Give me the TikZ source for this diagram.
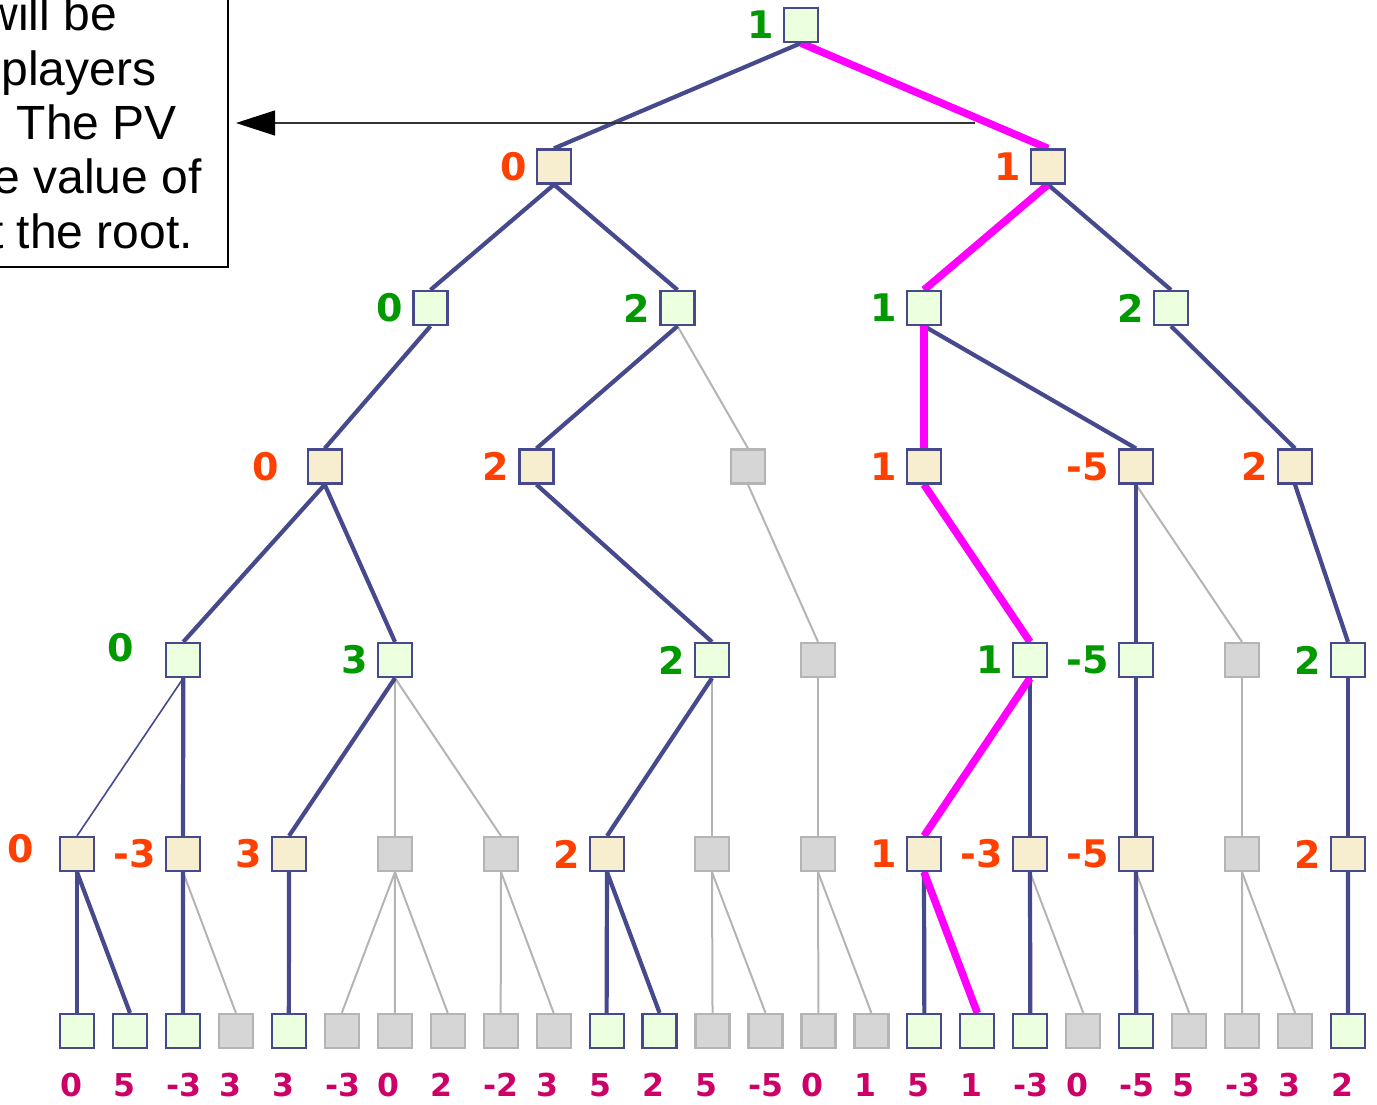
\documentclass[tikz,border=0pt]{standalone}
\usepackage{fontspec}
\setmainfont{Liberation Sans}
\newfontfamily\vfont{DejaVu Sans}
\usetikzlibrary{arrows.meta,positioning,backgrounds}
\definecolor{edgeblue}{RGB}{70,74,140}
\definecolor{boxgreen}{RGB}{236,255,222}
\definecolor{boxbeige}{RGB}{246,238,206}
\definecolor{boxgray}{RGB}{214,214,214}
\definecolor{linegray}{RGB}{180,180,180}
\definecolor{pvcol}{RGB}{255,0,255}
\definecolor{valgreen}{RGB}{0,153,0}
\definecolor{valorange}{RGB}{255,64,0}
\definecolor{leafval}{RGB}{204,0,102}
\begin{document}
\begin{tikzpicture}[x=1pt,y=-1pt,
  sq/.style={rectangle,minimum width=34pt,minimum height=34pt,inner sep=0pt,line width=2.2pt},
  maxsq/.style={sq,draw=edgeblue,fill=boxgreen},
  minsq/.style={sq,draw=edgeblue,fill=boxbeige},
  cutsq/.style={sq,draw=linegray,fill=boxgray},
  glab/.style={text=valgreen,inner sep=0pt,font=\vfont\bfseries\fontsize{38}{38}\selectfont},
  olab/.style={text=valorange,inner sep=0pt,font=\vfont\bfseries\fontsize{38}{38}\selectfont},
  leaflab/.style={text=leafval,inner sep=0pt,anchor=base west,font=\vfont\bfseries\fontsize{31.5}{31.5}\selectfont},
  notetext/.style={anchor=base east,inner sep=0pt,font=\fontsize{48}{48}\selectfont},
  mainedge/.style={draw=edgeblue,line width=4.2pt},
  thinedge/.style={draw=edgeblue,line width=1.6pt},
  cutedge/.style={draw=linegray,line width=2pt},
  pvedge/.style={draw=pvcol,line width=7.5pt},
  pointer/.style={draw=black!80,line width=1.2pt,-{Triangle[length=39pt,width=25pt,color=black]}}
]
\useasboundingbox (0,0) rectangle (1377,1104);
\clip (0,0) rectangle (1377,1104);

% note box (partly outside the picture)
\draw[line width=1.2pt,fill=white] (-20,-20) rectangle (228,267);
\node[notetext] (n1) at (117,30.5) {will be};
\node[notetext] (n2) at (156.5,85) {players};
\node[notetext] (n3) at (177,139.3) {. The PV};
\node[notetext] (n4) at (202,193.5) {e value of};
\node[notetext] (n5) at (193,248) {t the root.};

% root and inner nodes
\node[maxsq] (r) at (801,25) {};
\node[minsq] (a1) at (554,166.5) {};
\node[minsq] (b1) at (1048,166.5) {};
\node[maxsq] (a2) at (430.5,308) {};
\node[maxsq] (b2) at (677.5,308) {};
\node[maxsq] (c2) at (924,308) {};
\node[maxsq] (d2) at (1171,308) {};
\node[minsq] (a3) at (324.7,466.5) {};
\node[minsq] (b3) at (536.5,466.5) {};
\node[cutsq] (c3) at (748,466.5) {};
\node[minsq] (d3) at (924,466.5) {};
\node[minsq] (e3) at (1136,466.5) {};
\node[minsq] (f3) at (1295,466.5) {};
\node[maxsq] (a4) at (183.3,660) {};
\node[maxsq] (b4) at (395,660) {};
\node[maxsq] (c4) at (712,660) {};
\node[cutsq] (d4) at (818,660) {};
\node[maxsq] (e4) at (1030,660) {};
\node[maxsq] (f4) at (1136,660) {};
\node[cutsq] (g4) at (1242,660) {};
\node[maxsq] (h4) at (1348,660) {};
\node[minsq] (a5) at (77,854) {};
\node[minsq] (b5) at (183,854) {};
\node[minsq] (c5) at (289,854) {};
\node[cutsq] (d5) at (395,854) {};
\node[cutsq] (e5) at (501,854) {};
\node[minsq] (f5) at (607,854) {};
\node[cutsq] (g5) at (712,854) {};
\node[cutsq] (h5) at (818,854) {};
\node[minsq] (i5) at (924,854) {};
\node[minsq] (j5) at (1030,854) {};
\node[minsq] (k5) at (1136,854) {};
\node[cutsq] (l5) at (1242,854) {};
\node[minsq] (m5) at (1348,854) {};

% leaves
\foreach \n/\sty/\val in {0/maxsq/0,1/maxsq/5,2/maxsq/-3,3/cutsq/3,4/maxsq/3,5/cutsq/-3,6/cutsq/0,7/cutsq/2,8/cutsq/-2,9/cutsq/3,10/maxsq/5,11/maxsq/2,12/cutsq/5,13/cutsq/-5,14/cutsq/0,15/cutsq/1,16/maxsq/5,17/maxsq/1,18/maxsq/-3,19/cutsq/0,20/maxsq/-5,21/cutsq/5,22/cutsq/-3,23/cutsq/3,24/maxsq/2}{
  \node[\sty] (lf\n) at ({77+52.96*\n},1031) {};
  \node[leaflab] (lv\n) at ({60+52.96*\n},1096.5) {\val};
}

% value labels
\node[glab,left=9pt of r] (rv) {1};
\node[olab,left=9pt of a1] (a1v) {0};
\node[olab,left=9pt of b1] (b1v) {1};
\node[glab,left=9pt of a2] (a2v) {0};
\node[glab,left=9pt of b2] (b2v) {2};
\node[glab,left=9pt of c2] (c2v) {1};
\node[glab,left=9pt of d2] (d2v) {2};
\node[olab,left=27pt of a3] (a3v) {0};
\node[olab,left=9pt of b3] (b3v) {2};
\node[olab,left=9pt of d3] (d3v) {1};
\node[olab,left=9pt of e3] (e3v) {-5};
\node[olab,left=9pt of f3] (f3v) {2};
\node[glab] (a4v) at (121,648) {0};
\node[glab,left=9pt of b4] (b4v) {3};
\node[glab,left=9pt of c4] (c4v) {2};
\node[glab,left=9pt of e4] (e4v) {1};
\node[glab,left=9pt of f4] (f4v) {-5};
\node[glab,left=9pt of h4] (h4v) {2};
\node[olab] (a5v) at (21,849) {0};
\node[olab,left=9pt of b5] (b5v) {-3};
\node[olab,left=9pt of c5] (c5v) {3};
\node[olab,left=9pt of f5] (f5v) {2};
\node[olab,left=9pt of i5] (i5v) {1};
\node[olab,left=9pt of j5] (j5v) {-3};
\node[olab,left=9pt of k5] (k5v) {-5};
\node[olab,left=9pt of m5] (m5v) {2};

\begin{scope}[on background layer]
  % pruned branches
  \foreach \p/\c in {b2/c3,c3/d4,e3/g4,b4/d5,b4/e5,c4/g5,d4/h5,g4/l5,b5/lf3,d5/lf5,d5/lf6,d5/lf7,e5/lf8,e5/lf9,g5/lf12,g5/lf13,h5/lf14,h5/lf15,j5/lf19,k5/lf21,l5/lf22,l5/lf23}
    \draw[cutedge] (\p.south) -- (\c.north);
  % searched branches
  \foreach \p/\c in {r/a1,r/b1,a1/a2,a1/b2,b1/c2,b1/d2,a2/a3,b2/b3,c2/d3,c2/e3,d2/f3,a3/a4,a3/b4,b3/c4,d3/e4,e3/f4,f3/h4,a4/b5,b4/c5,c4/f5,e4/i5,e4/j5,f4/k5,h4/m5,a5/lf0,a5/lf1,b5/lf2,c5/lf4,f5/lf10,f5/lf11,i5/lf16,i5/lf17,j5/lf18,k5/lf20,m5/lf24}
    \draw[mainedge] (\p.south) -- (\c.north);
  \draw[thinedge] (a4.south) -- (a5.north);
  % principal variation
  \foreach \p/\c in {r/b1,b1/c2,c2/d3,d3/e4,e4/i5,i5/lf17}
    \draw[pvedge] (\p.south) -- (\c.north);
\end{scope}

% pointer to the note
\coordinate (arrfrom) at (975,123);
\coordinate (arrto) at (236,123);
\draw[pointer] (arrfrom) -- (arrto);
\end{tikzpicture}
\end{document}
